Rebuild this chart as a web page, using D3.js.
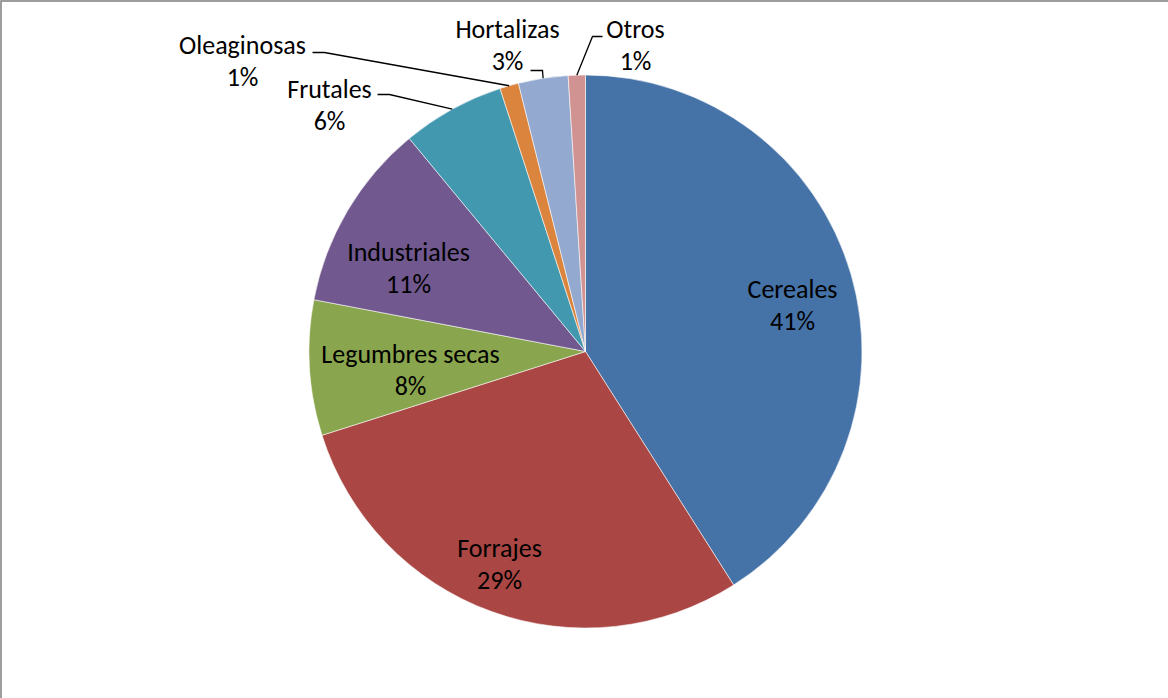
<!DOCTYPE html>
<html>
<head>
<meta charset="utf-8">
<script src="https://cdn.jsdelivr.net/npm/d3@7"></script>
<style>
  html, body { margin: 0; padding: 0; background: #fff; }
  svg { display: block; }
  text { font-family: Carlito, Lato, "Open Sans", sans-serif; fill: #000; }
</style>
</head>
<body>
<svg id="chart" width="1168" height="698"></svg>
<script>
// Crop groups, share of cultivated area (%)
const categories = ["Cereales", "Forrajes", "Legumbres secas", "Industriales", "Frutales", "Oleaginosas", "Hortalizas", "Otros"];
const shares = [41.0, 29.1, 7.9, 11.0, 6.0, 1.1, 2.9, 1.0];
const colors = ["#4572A7", "#AA4643", "#89A54E", "#71588F", "#4198AF", "#DB843D", "#93A9CF", "#D19392"];

// Label placement: centre of the two-line label block, relative to the pie centre.
// Outside labels also carry the elbow point of their leader line.
const labelLayout = {
  "Cereales":        { at: [207, -47] },
  "Forrajes":        { at: [-86, 212] },
  "Legumbres secas": { at: [-175, 18] },
  "Industriales":    { at: [-177, -84] },
  "Frutales":        { at: [-256, -247], elbow: [[-208, -257], [-196, -257]] },
  "Oleaginosas":     { at: [-343, -291], elbow: [[-273, -299], [-261, -299]] },
  "Hortalizas":      { at: [-78, -307], elbow: [[-55, -281], [-43, -281]] },
  "Otros":           { at: [50, -307], elbow: [[17, -315], [7, -315]] }
};

const W = 1168, H = 698;
const cx = 585.5, cy = 351.5, R = 276.5;
const fontSize = 26, lineGap = 32;

const svg = d3.select("#chart");

// chart area frame (top and left edges visible)
svg.append("rect")
  .attr("x", 1).attr("y", 1)
  .attr("width", W + 20).attr("height", H + 20)
  .attr("fill", "#fff")
  .attr("stroke", "#868686")
  .attr("stroke-width", 1.6);

const data = categories.map((c, i) => ({ name: c, value: shares[i], color: colors[i] }));
const total = d3.sum(shares);

const pie = d3.pie().value(d => d.value).sort(null);
const arcs = pie(data);
const arc = d3.arc().innerRadius(0).outerRadius(R);

const g = svg.append("g").attr("transform", `translate(${cx},${cy})`);

g.selectAll("path.slice")
  .data(arcs)
  .join("path")
  .attr("class", "slice")
  .attr("d", arc)
  .attr("fill", d => d.data.color)
  .attr("stroke", "#fff")
  .attr("stroke-width", 0.8)
  .attr("stroke-opacity", 0.7);

// leader lines for labels placed outside the pie
const outerPoint = d => {
  const a = (d.startAngle + d.endAngle) / 2;
  return [R * Math.sin(a), -R * Math.cos(a)];
};

g.selectAll("path.leader")
  .data(arcs.filter(d => labelLayout[d.data.name].elbow))
  .join("path")
  .attr("class", "leader")
  .attr("fill", "none")
  .attr("stroke", "#000")
  .attr("stroke-width", 1.3)
  .attr("d", d => d3.line()([...labelLayout[d.data.name].elbow, outerPoint(d)]));

// two-line labels: name + rounded percentage
const labels = g.selectAll("text.lbl")
  .data(arcs)
  .join("text")
  .attr("class", "lbl")
  .attr("text-anchor", "middle")
  .attr("font-size", fontSize)
  .attr("transform", d => `translate(${labelLayout[d.data.name].at})`);

labels.append("tspan")
  .attr("x", 0).attr("y", -lineGap / 2 + fontSize * 0.35)
  .text(d => d.data.name);
labels.append("tspan")
  .attr("x", 0).attr("y", lineGap / 2 + fontSize * 0.35)
  .text(d => Math.round(d.data.value / total * 100) + "%");
</script>
</body>
</html>
